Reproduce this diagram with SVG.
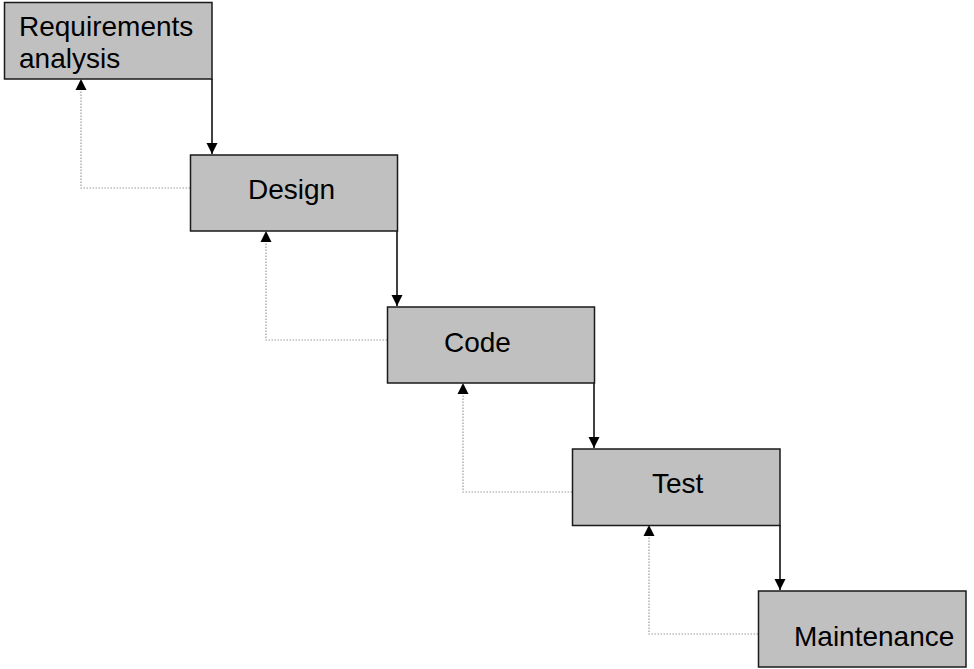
<svg xmlns="http://www.w3.org/2000/svg" width="974" height="669" viewBox="0 0 974 669">
<defs>
<style>
.box{fill:#c0c0c0;stroke:#1a1a1a;stroke-width:1.5}
.lbl{font-family:"Liberation Sans",Arial,sans-serif;font-size:28px;fill:#000}
.fwd{fill:none;stroke:#000;stroke-width:1.5}
.back{fill:none;stroke:#9a9a9a;stroke-width:1.2;stroke-dasharray:1.5,1.5}
</style>
<marker id="ah" markerUnits="userSpaceOnUse" markerWidth="12" markerHeight="12" viewBox="0 0 12 12" refX="11" refY="6" orient="auto">
<path d="M0,0.5 L11,6 L0,11.5 Z" fill="#000"/>
</marker>
</defs>
<rect width="974" height="669" fill="#fff"/>
<g id="connectors">
<path class="fwd" d="M212,79 V154" marker-end="url(#ah)"/>
<path class="fwd" d="M397,231 V306" marker-end="url(#ah)"/>
<path class="fwd" d="M594,383 V448" marker-end="url(#ah)"/>
<path class="fwd" d="M780,525 V590" marker-end="url(#ah)"/>
<path class="back" d="M190,188 H81 V86"/>
<path class="back" d="M387,340 H266 V238"/>
<path class="back" d="M572,492 H463 V390"/>
<path class="back" d="M758,634 H649 V532"/>
<path d="M81,79 L75.5,90 L86.5,90 Z" fill="#000"/>
<path d="M266,231 L260.5,242 L271.5,242 Z" fill="#000"/>
<path d="M463,383 L457.5,394 L468.5,394 Z" fill="#000"/>
<path d="M649,525 L643.5,536 L654.5,536 Z" fill="#000"/>
</g>
<g id="requirements">
<rect class="box" x="4.5" y="2.5" width="207.5" height="76.5"/>
<text class="lbl" x="19" y="36">Requirements</text>
<text class="lbl" x="19" y="68">analysis</text>
</g>
<g id="design">
<rect class="box" x="190.5" y="155" width="207" height="76"/>
<text class="lbl" x="248" y="199">Design</text>
</g>
<g id="code">
<rect class="box" x="387.5" y="307" width="207" height="76"/>
<text class="lbl" x="444" y="352">Code</text>
</g>
<g id="test">
<rect class="box" x="572.5" y="449" width="207.5" height="76.5"/>
<text class="lbl" x="652" y="493">Test</text>
</g>
<g id="maintenance">
<rect class="box" x="758.5" y="591" width="207.5" height="76"/>
<text class="lbl" x="794" y="646">Maintenance</text>
</g>
</svg>
